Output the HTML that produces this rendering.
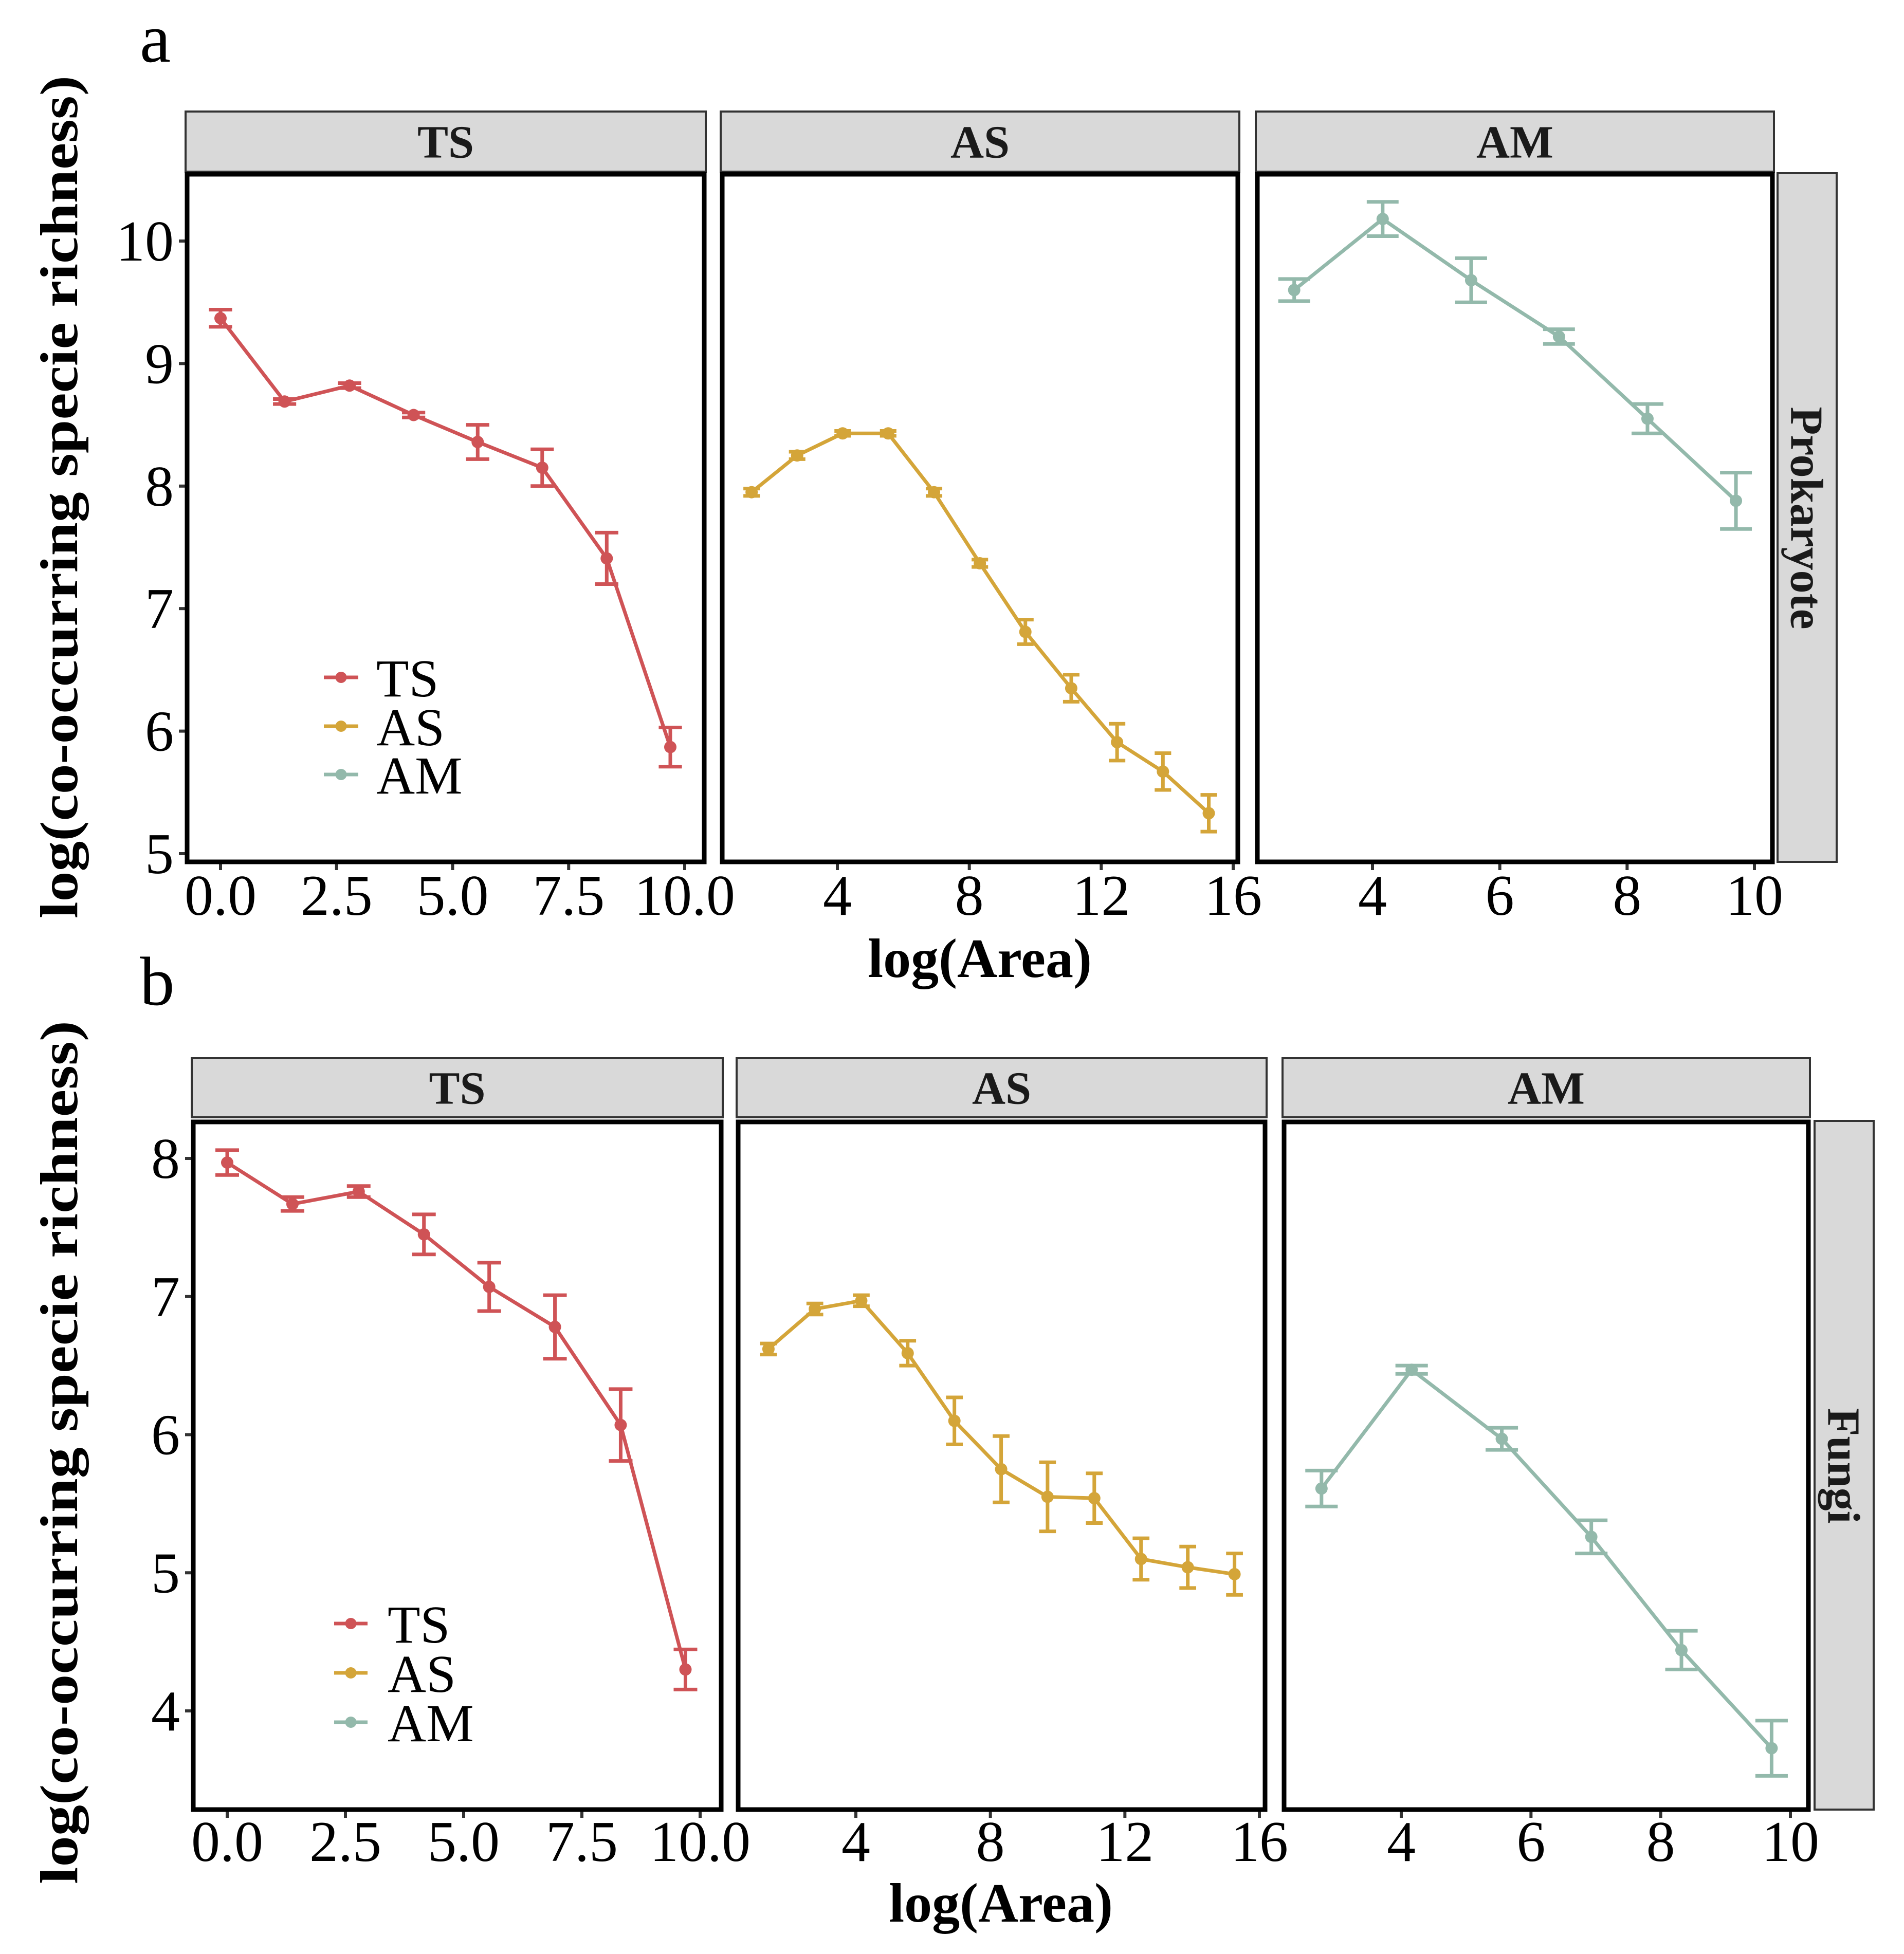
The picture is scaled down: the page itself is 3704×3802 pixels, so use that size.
<!DOCTYPE html>
<html><head><meta charset="utf-8"><style>
html,body{margin:0;padding:0;background:#fff}
svg{display:block}
text{font-family:"Liberation Serif",serif}
</style></head>
<body>
<svg id="chart" xmlns="http://www.w3.org/2000/svg" width="3704" height="3802" viewBox="0 0 3704 3802">
<rect x="0" y="0" width="3704" height="3802" fill="#fff"/>
<text x="272" y="120" font-size="135">a</text>
<text x="272" y="1955" font-size="135">b</text>
<text transform="translate(150,967) rotate(-90)" text-anchor="middle" font-size="104" font-weight="bold" textLength="1640" lengthAdjust="spacingAndGlyphs">log(co-occurring specie richness)</text>
<text transform="translate(150,2826) rotate(-90)" text-anchor="middle" font-size="104" font-weight="bold" textLength="1680" lengthAdjust="spacingAndGlyphs">log(co-occurring specie richness)</text>
<text x="1906" y="1901" text-anchor="middle" font-size="108" font-weight="bold">log(Area)</text>
<text x="1947" y="3739" text-anchor="middle" font-size="108" font-weight="bold">log(Area)</text>
<g id="plots"></g>
</svg>
<script>
// ---- data ----
const xTS = [0, 1.38, 2.78, 4.16, 5.54, 6.93, 8.32, 9.69];
const xAS = [1.40, 2.78, 4.16, 5.54, 6.93, 8.32, 9.70, 11.09, 12.48, 13.87, 15.26];
const xAM = [2.77, 4.16, 5.55, 6.93, 8.32, 9.71];

const prokTS = [9.37, 8.69, 8.82, 8.58, 8.36, 8.15, 7.41, 5.87];
const prokTSerr = [0.07, 0.02, 0.02, 0.02, 0.14, 0.15, 0.21, 0.16];
const prokAS = [7.95, 8.25, 8.43, 8.43, 7.95, 7.37, 6.81, 6.35, 5.91, 5.67, 5.33];
const prokASerr = [0.03, 0.03, 0.02, 0.02, 0.03, 0.03, 0.10, 0.11, 0.15, 0.15, 0.15];
const prokAM = [9.60, 10.18, 9.68, 9.22, 8.55, 7.88];
const prokAMerr = [0.09, 0.14, 0.18, 0.06, 0.12, 0.23];

const fungTS = [7.97, 7.67, 7.76, 7.45, 7.07, 6.78, 6.07, 4.30];
const fungTSerr = [0.09, 0.05, 0.04, 0.145, 0.175, 0.23, 0.26, 0.145];
const fungAS = [6.62, 6.91, 6.97, 6.59, 6.10, 5.75, 5.55, 5.54, 5.10, 5.04, 4.99];
const fungASerr = [0.04, 0.04, 0.04, 0.09, 0.17, 0.24, 0.25, 0.18, 0.15, 0.15, 0.15];
const fungAM = [5.61, 6.47, 5.97, 5.26, 4.44, 3.73];
const fungAMerr = [0.13, 0.03, 0.08, 0.12, 0.14, 0.20];

const ticksTS = [0, 2.5, 5, 7.5, 10];
const tickLabelsTS = ["0.0", "2.5", "5.0", "7.5", "10.0"];
const ticksAS = [4, 8, 12, 16];
const ticksAM = [4, 6, 8, 10];
const yTicksTop = [5, 6, 7, 8, 9, 10];
const yTicksBottom = [4, 5, 6, 7, 8];
const groups = ["TS", "AS", "AM"];

const COL = {TS:"#cf5356", AS:"#d4a539", AM:"#93b9ab"};
const NS = "http://www.w3.org/2000/svg";
const root = document.getElementById('plots');
function mk(tag, attrs, parent){
  const e = document.createElementNS(NS, tag);
  for (const k in attrs) e.setAttribute(k, attrs[k]);
  (parent||root).appendChild(e);
  return e;
}
function lin(d0,d1,r0,r1){ return v => r0 + (v-d0)/(d1-d0)*(r1-r0); }

const rows = [
  {name:"Prokaryote", stripTop:217, stripBot:334, top:339, bot:1677, yScale:lin(5,10,1661,469), yTicks:yTicksTop, labBase:1780,
   rStrip:[3458,3573], legend:{x0:630,x1:697,tx:732,ys:[1318,1413,1507]},
   panels:[
    {g:"TS", l:364, r:1370, x:lin(0,10,429,1332), xs:xTS, ys:prokTS, es:prokTSerr, ticks:ticksTS, labels:tickLabelsTS},
    {g:"AS", l:1405, r:2408, x:lin(4,16,1629,2399), xs:xAS, ys:prokAS, es:prokASerr, ticks:ticksAS},
    {g:"AM", l:2446, r:3448, x:lin(4,10,2670,3413), xs:xAM, ys:prokAM, es:prokAMerr, ticks:ticksAM}]},
  {name:"Fungi", stripTop:2059, stripBot:2174, top:2183, bot:3521, yScale:lin(4,8,3329,2254), yTicks:yTicksBottom, labBase:3621,
   rStrip:[3530,3645], legend:{x0:650,x1:715,tx:754,ys:[3159,3255,3351]},
   panels:[
    {g:"TS", l:376, r:1403, x:lin(0,10,442,1362), xs:xTS, ys:fungTS, es:fungTSerr, ticks:ticksTS, labels:tickLabelsTS},
    {g:"AS", l:1436, r:2461, x:lin(4,16,1665,2450), xs:xAS, ys:fungAS, es:fungASerr, ticks:ticksAS},
    {g:"AM", l:2498, r:3518, x:lin(4,10,2726,3483), xs:xAM, ys:fungAM, es:fungAMerr, ticks:ticksAM}]}
];

rows.forEach((row, ri) => {
  const Y = row.yScale;
  row.panels.forEach((p, pi) => {
    const g = mk('g', {});
    
    
    const st = mk('rect', {x:p.l-3, y:row.stripTop, width:p.r-p.l+6, height:row.stripBot-row.stripTop, fill:"#d9d9d9", stroke:"#333", "stroke-width":4}, g);
    
    
    const stt = mk('text', {x:(p.l+p.r)/2, y:(row.stripTop+row.stripBot)/2+31, "text-anchor":"middle", "font-size":90, "font-weight":"bold", fill:"#1a1a1a"}, g);
    stt.textContent = p.g;
    
    
    const bg = mk('rect', {x:p.l, y:row.top, width:p.r-p.l, height:row.bot-row.top, fill:"#fff"}, g);
    
    
    p.ticks.forEach((t, i) => {
      const xx = p.x(t);
      const tk = mk('line', {x1:xx, x2:xx, y1:row.bot, y2:row.bot+16, stroke:"#333", "stroke-width":6}, g);
      
      
      const lb = mk('text', {x:xx, y:row.labBase, "text-anchor":"middle", "font-size":112, fill:"#000"}, g);
      lb.textContent = p.labels ? p.labels[i] : String(t);
      
      
    });
    if (pi === 0) {
      row.yTicks.forEach(t => {
        const yy = Y(t);
        const tk = mk('line', {x1:p.l-16, x2:p.l, y1:yy, y2:yy, stroke:"#333", "stroke-width":6}, g);
        
        
        const lb = mk('text', {x:p.l-26, y:yy+38, "text-anchor":"end", "font-size":112, fill:"#000"}, g);
        lb.textContent = String(t);
        
        
      });
    }
    const c = COL[p.g];
    const cap = 0.25;
    p.xs.forEach((xv, i) => {
      const xx = p.x(xv), y1 = Y(p.ys[i] + p.es[i]), y2 = Y(p.ys[i] - p.es[i]);
      const hw = p.x(xv + cap) - xx;
      const eb = mk('path', {d:`M${xx-hw},${y1}H${xx+hw}M${xx},${y1}V${y2}M${xx-hw},${y2}H${xx+hw}`, stroke:c, "stroke-width":7, fill:"none"}, g);
      
      
    });
    const pts = p.xs.map((xv, i) => p.x(xv) + ',' + Y(p.ys[i])).join(' ');
    const pl = mk('polyline', {points:pts, fill:"none", stroke:c, "stroke-width":7, "stroke-linejoin":"round"}, g);
    
    
    p.xs.forEach((xv, i) => {
      const pt = mk('circle', {cx:p.x(xv), cy:Y(p.ys[i]), r:12, fill:c}, g);
      
      
    });
    const bd = mk('rect', {x:p.l, y:row.top, width:p.r-p.l, height:row.bot-row.top, fill:"none", stroke:"#000", "stroke-width":9}, g);
    
    
  });
  const rs = mk('rect', {x:row.rStrip[0], y:row.top-2, width:row.rStrip[1]-row.rStrip[0], height:row.bot-row.top+2, fill:"#d9d9d9", stroke:"#333", "stroke-width":4});
  
  
  const cx = (row.rStrip[0]+row.rStrip[1])/2, cy = (row.top+row.bot)/2;
  const rt = mk('text', {transform:`translate(${cx-31},${cy}) rotate(90)`, "text-anchor":"middle", "font-size":90, "font-weight":"bold", fill:"#1a1a1a"});
  rt.textContent = row.name;
  
  
  const L = row.legend;
  groups.forEach((gname, i) => {
    const lg = mk('g', {});
    
    
    mk('line', {x1:L.x0, x2:L.x1, y1:L.ys[i], y2:L.ys[i], stroke:COL[gname], "stroke-width":7}, lg);
    mk('circle', {cx:(L.x0+L.x1)/2, cy:L.ys[i], r:11, fill:COL[gname]}, lg);
    const t = mk('text', {x:L.tx, y:L.ys[i]+37, "font-size":104, fill:"#000"}, lg);
    t.textContent = gname;
  });
});
</script>
</body></html>
